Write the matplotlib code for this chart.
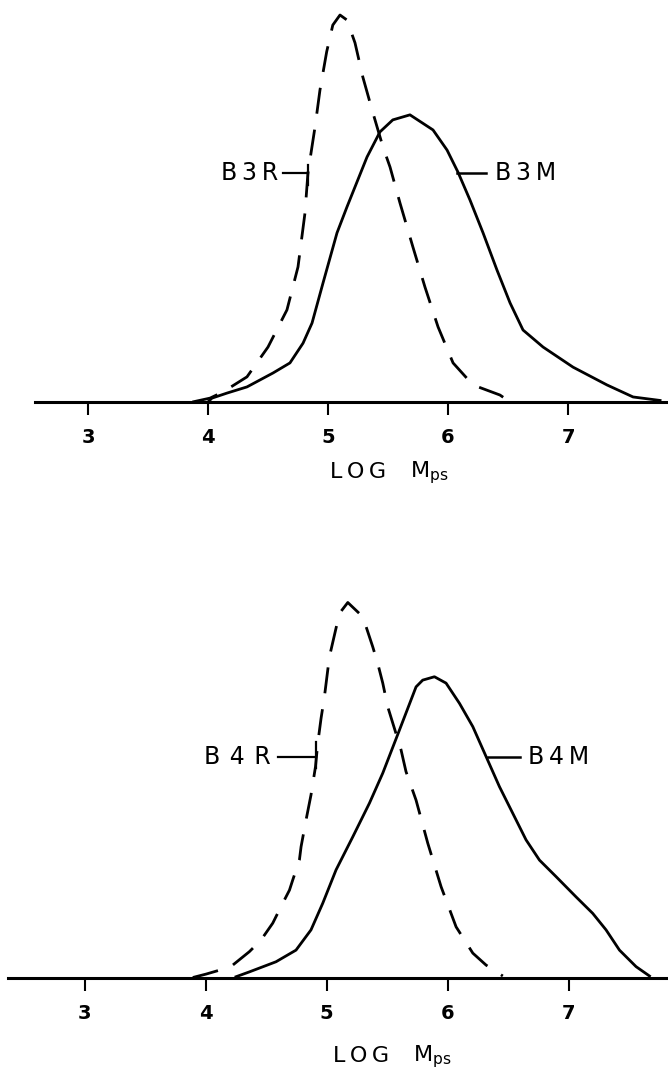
# ============================================
# Molecular weight distributions (LOG Mps)
# B3R / B3M (top) and B4R / B4M (bottom)
# ============================================

import matplotlib
matplotlib.use("Agg")
import matplotlib.pyplot as plt

# Top panel: B3R (dashed), heights relative to the B3R peak
b3r_x = [3.87, 4.017, 4.125, 4.325, 4.50, 4.658, 4.75, 4.808, 4.833, 4.892, 4.933,
         4.989, 5.04, 5.10, 5.158, 5.225, 5.29, 5.367, 5.458, 5.517, 5.60, 5.708,
         5.808, 5.917, 6.042, 6.208, 6.433, 6.517]
b3r_y = [0.0, 0.010, 0.026, 0.065, 0.142, 0.238, 0.349, 0.488, 0.592, 0.711, 0.806,
         0.905, 0.974, 1.0, 0.987, 0.928, 0.840, 0.755, 0.659, 0.607, 0.514, 0.40,
         0.297, 0.194, 0.101, 0.044, 0.018, 0.0]

# Top panel: B3M (solid)
b3m_x = [4.00, 4.033, 4.158, 4.325, 4.542, 4.683, 4.792, 4.867, 4.958, 5.075, 5.158,
         5.325, 5.433, 5.54, 5.683, 5.875, 5.992, 6.083, 6.183, 6.292, 6.408, 6.517,
         6.625, 6.792, 7.042, 7.325, 7.542, 7.767]
b3m_y = [0.0, 0.010, 0.023, 0.039, 0.075, 0.101, 0.152, 0.204, 0.307, 0.437, 0.504,
         0.633, 0.698, 0.729, 0.742, 0.703, 0.651, 0.594, 0.522, 0.437, 0.341, 0.256,
         0.186, 0.142, 0.090, 0.044, 0.013, 0.004]

# Bottom panel: B4R (dashed)
b4r_x = [3.893, 4.002, 4.140, 4.223, 4.361, 4.457, 4.554, 4.622, 4.692, 4.719, 4.774,
         4.788, 4.829, 4.870, 4.907, 4.926, 4.953, 4.981, 5.022, 5.105,
         5.174, 5.298, 5.339, 5.380, 5.421, 5.463, 5.504, 5.614, 5.655, 5.738, 5.835,
         5.945, 6.069, 6.207, 6.317, 6.455]
b4r_y = [0.0, 0.009, 0.022, 0.033, 0.069, 0.100, 0.145, 0.189, 0.233, 0.260, 0.313,
         0.349, 0.420, 0.487, 0.562, 0.625, 0.691, 0.749, 0.855, 0.971,
         1.0, 0.962, 0.922, 0.882, 0.838, 0.785, 0.722, 0.607, 0.549, 0.473, 0.358,
         0.242, 0.135, 0.065, 0.033, 0.004]

# Bottom panel: B4M (solid)
b4m_x = [4.25, 4.361, 4.581, 4.746, 4.870, 4.967, 5.077, 5.215, 5.353, 5.463, 5.601,
         5.738, 5.793, 5.890, 5.986, 6.097, 6.207, 6.317, 6.427, 6.537,
         6.647, 6.758, 6.895, 7.060, 7.198, 7.308, 7.419, 7.556, 7.667]
b4m_y = [0.002, 0.015, 0.042, 0.073, 0.127, 0.198, 0.287, 0.375, 0.465, 0.545, 0.660,
         0.775, 0.793, 0.802, 0.785, 0.731, 0.669, 0.589, 0.509, 0.438,
         0.367, 0.313, 0.269, 0.215, 0.171, 0.127, 0.073, 0.029, 0.004]

tick_values = [3, 4, 5, 6, 7]
tick_labels = ["3", "4", "5", "6", "7"]

W, H = 668, 1074
fig = plt.figure(figsize=(W / 100, H / 100), dpi=100)

LW = 2.0
DASH = (9.4, 5.8)
TS = "\u2009"  # thin space for the spaced lettering


def make_panel(rect, xlim, ylim, spine_start):
    ax = fig.add_axes(rect)
    ax.set_xlim(*xlim)
    ax.set_ylim(*ylim)
    for side in ["top", "right", "left"]:
        ax.spines[side].set_visible(False)
    ax.spines["bottom"].set_linewidth(2.2)
    ax.spines["bottom"].set_bounds(spine_start, xlim[1])
    ax.set_yticks([])
    ax.set_xticks(tick_values)
    ax.set_xticklabels(tick_labels, fontsize=14, fontweight="bold")
    ax.tick_params(axis="x", direction="out", length=9, width=1.5, pad=10)
    ax.patch.set_alpha(0)
    return ax


def label_pair(ax, left_text, left_end, line_l, bar_x, bar_y, right_text, line_r, text_start, y):
    ax.text(left_end, y, left_text, ha="right", va="center", fontsize=17)
    ax.plot([line_l, bar_x], [y, y], color="black", lw=1.6)
    ax.plot([bar_x, bar_x], bar_y, color="black", lw=1.6)
    ax.plot(line_r, [y, y], color="black", lw=1.8)
    ax.text(text_start, y, right_text, ha="left", va="center", fontsize=17)


def axis_title(ax, x_log, x_m, y):
    ax.text(x_log, y, "L" + TS + "O" + TS + "G", ha="left", va="baseline", fontsize=16)
    ax.text(x_m, y, "M$_\\mathregular{ps}$", ha="left", va="baseline", fontsize=16)


# ============================================
# Top panel
# ============================================
top = make_panel([0, (H - 402) / H, 1, 402 / H], (2.267, 7.833), (0, 402 / 387), 2.558)
top.plot(b3r_x, b3r_y, color="black", lw=LW, dashes=DASH)
top.plot(b3m_x, b3m_y, color="black", lw=LW)
label_pair(top, "B" + TS + "3" + TS + "R", 4.583, 4.625, 4.836, [0.561, 0.612],
           "B" + TS + "3" + TS + "M", [6.072, 6.317], 6.392, 0.592)
axis_title(top, 5.017, 5.68, -0.196)

# ============================================
# Bottom panel
# ============================================
bot = make_panel([0, (H - 977.5) / H, 1, 415 / H], (2.30, 7.82), (0, 415 / 375), 2.37)
bot.plot(b4r_x, b4r_y, color="black", lw=LW, dashes=DASH)
bot.plot(b4m_x, b4m_y, color="black", lw=LW)
label_pair(bot, "B" + TS + TS + "4" + TS + TS + "R", 4.540, 4.595, 4.912, [0.558, 0.629],
           "B" + TS + "4" + TS + "M", [6.331, 6.593], 6.661, 0.589)
axis_title(bot, 5.05, 5.71, -0.225)

plt.savefig("out.png", dpi=100)
print("Figure saved to out.png")
